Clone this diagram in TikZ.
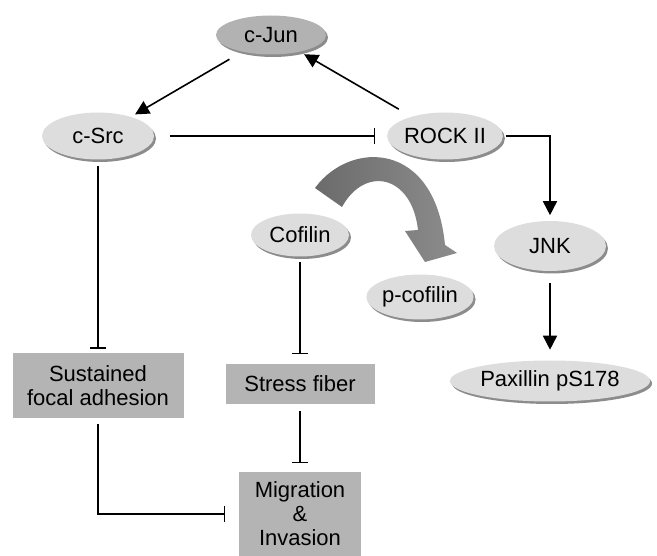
\documentclass[tikz,border=0pt]{standalone}
\usepackage{fontspec}
\setmainfont{Liberation Sans}
\usetikzlibrary{arrows.meta,shapes.geometric,shadows}
\definecolor{ovalgray}{RGB}{221,221,221}
\definecolor{jungray}{RGB}{178,178,178}
\definecolor{boxgray}{RGB}{180,180,180}
\definecolor{rimgray}{RGB}{140,140,140}
\begin{document}
\begin{tikzpicture}[x=1pt,y=-1pt,line width=1.6pt,
  oval/.style={ellipse,fill=ovalgray,inner sep=0pt,font=\fontsize{22}{24}\selectfont,
    drop shadow={opacity=1,fill=rimgray,shadow xshift=2pt,shadow yshift=-2.5pt}},
  gbox/.style={rectangle,fill=boxgray,inner sep=0pt,align=center,font=\fontsize{22}{24}\selectfont},
  act/.style={-{Triangle[width=14pt,length=14pt]}},
  inh/.style={-{Bar[width=16pt]}}]
\useasboundingbox (0,0) rectangle (657,556);
\node[oval,fill=jungray,minimum width=110,minimum height=39] (cjun) at (271,35) {c-Jun};
\node[oval,minimum width=112,minimum height=47] (csrc) at (98,136) {c-Src};
\node[oval,minimum width=112,minimum height=47] (rock) at (445,136) {ROCK II};
\node[oval,minimum width=98,minimum height=43] (cof) at (300,235) {Cofilin};
\node[oval,minimum width=102,minimum height=45] (pcof) at (420,297) {p-cofilin};
\node[oval,minimum width=112,minimum height=50] (jnk) at (550,246) {JNK};
\node[oval,minimum width=200,minimum height=41] (pax) at (550,381) {Paxillin pS178};
\node[gbox,minimum width=171,minimum height=65] (sfa) at (98,386) {Sustained\\focal adhesion};
\node[gbox,minimum width=149,minimum height=40] (sf) at (300,384) {Stress fiber};
\node[gbox,minimum width=122,minimum height=84] (mig) at (300,514) {Migration\\\&\\Invasion};
\shade[left color=black!58,right color=black!45] (315,188) .. controls (350,140) and (435,140) .. (445,245) -- (457,253) -- (425,262) -- (405,231) -- (418,230) .. controls (412,175) and (365,165) .. (342,207) -- cycle;
\draw[act,shorten <=14pt,shorten >=4pt] (cjun) -- (csrc);
\draw[act,shorten <=14pt,shorten >=4pt] (rock) -- (cjun);
\draw[inh,shorten <=15pt,shorten >=11pt] (csrc.east) -- (rock.west);
\draw[act,shorten <=2pt,shorten >=5pt] (rock.east) -| (jnk.north);
\draw[act,shorten <=11pt,shorten >=10pt] (jnk) -- (pax);
\draw[inh,shorten <=6pt,shorten >=4pt] (csrc) -- (sfa);
\draw[inh,shorten <=5pt,shorten >=9pt] (cof) -- (sf);
\draw[inh,shorten <=6pt,shorten >=8pt] (sf) -- (mig);
\draw[inh,shorten <=5pt,shorten >=13pt] (sfa.south) |- (mig.west);
\end{tikzpicture}
\end{document}
